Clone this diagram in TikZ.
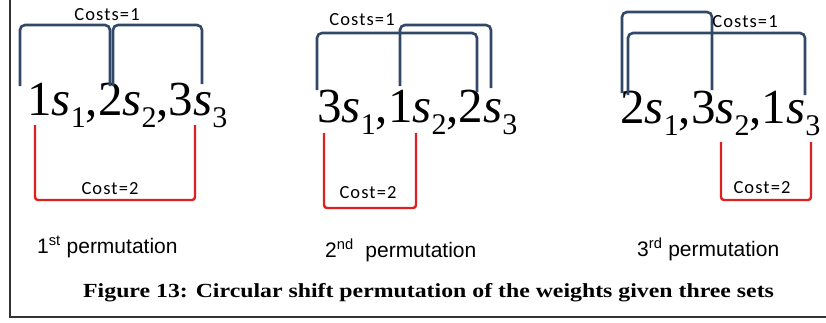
\documentclass[tikz,border=0pt]{standalone}
\usepackage{fontspec}
\usepackage{graphicx}
\setmainfont{Liberation Serif}
\newfontfamily\calibrifont{Carlito}[LetterSpace=6]
\newfontfamily\arialfont{Liberation Sans}
\newcommand\wgt[2]{#1\textit{s}\raisebox{-12pt}{\fontsize{30}{30}\selectfont #2}}
\definecolor{navyline}{RGB}{50,72,105}
\definecolor{redline}{RGB}{222,32,32}
\tikzset{
  bluebr/.style={draw=navyline, line width=2.6pt, rounded corners=5pt},
  redbr/.style={draw=redline, line width=2.4pt, rounded corners=3pt},
  formula/.style={anchor=base west, inner sep=0pt, font=\fontsize{49}{49}\selectfont},
  costlbl/.style={inner sep=0pt, font=\calibrifont\fontsize{18.5}{20}\selectfont},
  permlbl/.style={anchor=base west, inner sep=0pt, font=\arialfont\fontsize{21}{22}\selectfont},
  caplbl/.style={anchor=base west, inner sep=0pt, font=\bfseries\fontsize{20}{21}\selectfont},
  frameline/.style={draw=black!80, line width=2pt}
}
\begin{document}
\begin{tikzpicture}[x=1pt,y=-1pt]
\useasboundingbox (0,0) rectangle (826,322);
\fill[white] (0,0) rectangle (826,322);
% frame
\coordinate (ftl) at (9.5,0);
\coordinate (fbl) at (9.5,317);
\coordinate (fbr) at (826,317);
\draw[frameline] (ftl) -- (fbl) -- (fbr);

% ---------- panel 1 ----------
\node[formula] (f1) at (27,115) {\wgt{1}{1},\wgt{2}{2},\wgt{3}{3}};
\coordinate (a1l) at (20,86);  \coordinate (a1r) at (110,86);
\coordinate (b1l) at (113,86); \coordinate (b1r) at (202,84);
\draw[bluebr] (a1l) -- (20,25) -- (110,25) -- (a1r);
\draw[bluebr] (b1l) -- (113,25) -- (202,25) -- (b1r);
\coordinate (r1l) at (35,125); \coordinate (r1r) at (195,125);
\draw[redbr] (r1l) -- (35,200) -- (195,200) -- (r1r);
\node[costlbl] (c1a) at (107,15) {Costs=1};
\node[costlbl] (c1b) at (110,189) {Cost=2};
\node[permlbl] (p1) at (37,253) {1\textsuperscript{st} permutation};

% ---------- panel 2 ----------
\node[formula] (f2) at (317,122) {\wgt{3}{1},\wgt{1}{2},\wgt{2}{3}};
\coordinate (a2l) at (317,90); \coordinate (a2r) at (477,92);
\coordinate (b2l) at (400,86); \coordinate (b2r) at (491,88);
\draw[bluebr] (a2l) -- (317,33) -- (477,33) -- (a2r);
\draw[bluebr] (b2l) -- (400,25) -- (491,25) -- (b2r);
\coordinate (r2l) at (324,133); \coordinate (r2r) at (416,133);
\draw[redbr] (r2l) -- (324,208) -- (416,208) -- (r2r);
\node[costlbl] (c2a) at (362,20) {Costs=1};
\node[costlbl] (c2b) at (368,193) {Cost=2};
\node[permlbl] (p2) at (325,257) {2\textsuperscript{nd}\ \ permutation};

% ---------- panel 3 ----------
\node[formula] (f3) at (620,123) {\wgt{2}{1},\wgt{3}{2},\wgt{1}{3}};
\coordinate (a3l) at (622,93); \coordinate (a3r) at (712,90);
\coordinate (b3l) at (628,95); \coordinate (b3r) at (805,95);
\draw[bluebr] (a3l) -- (622,12) -- (712,12) -- (a3r);
\draw[bluebr] (b3l) -- (628,33) -- (805,33) -- (b3r);
\coordinate (r3l) at (721,142); \coordinate (r3r) at (811,142);
\draw[redbr] (r3l) -- (721,200) -- (811,200) -- (r3r);
\node[costlbl] (c3a) at (745,22) {Costs=1};
\node[costlbl] (c3b) at (762,188) {Cost=2};
\node[permlbl] (p3) at (637,256) {3\textsuperscript{rd} permutation};

% ---------- caption ----------
\node[caplbl] (cap) at (83,297) {\scalebox{1.19}[1]{Figure 13: Circular shift permutation of the weights given three sets}};
\end{tikzpicture}
\end{document}
